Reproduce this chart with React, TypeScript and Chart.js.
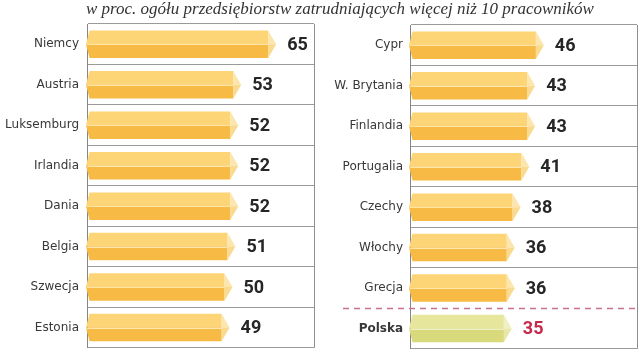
import React, { useEffect, useRef } from "react";
import { Chart, registerables } from "chart.js";

Chart.register(...registerables);

const titleText = "w proc. ogółu przedsiębiorstw zatrudniających więcej niż 10 pracowników";

const leftCategories = ["Niemcy", "Austria", "Luksemburg", "Irlandia", "Dania", "Belgia", "Szwecja", "Estonia"];
const leftValues = [65, 53, 52, 52, 52, 51, 50, 49];

const rightCategories = ["Cypr", "W. Brytania", "Finlandia", "Portugalia", "Czechy", "Włochy", "Grecja", "Polska"];
const rightValues = [46, 43, 43, 41, 38, 36, 36, 35];

const highlightCategory = "Polska";
const axisMax = 78;

const normalColors = { top: "#FDD476", bottom: "#F6BA45", tipTop: "#FCE6AE", tipBottom: "#F9DA8E", line: "#FDE6A8" };
const highlightColors = { top: "#E6E79D", bottom: "#D8DA7B", tipTop: "#F0F0C6", tipBottom: "#E6E7A8", line: "#EFEFC2" };

function drawPrism(ctx: CanvasRenderingContext2D, x0: number, x1: number, top: number, bottom: number, c: any) {
  const mid = (top + bottom) / 2;
  const t = Math.min(8, (x1 - x0) / 3);
  const b = 2.5;
  ctx.save();
  ctx.fillStyle = c.top;
  ctx.beginPath();
  ctx.moveTo(x0 + b, top);
  ctx.lineTo(x1 - t, top);
  ctx.lineTo(x1 - t, mid);
  ctx.lineTo(x0 - 1, mid);
  ctx.closePath();
  ctx.fill();
  ctx.fillStyle = c.bottom;
  ctx.beginPath();
  ctx.moveTo(x0 - 1, mid);
  ctx.lineTo(x1 - t, mid);
  ctx.lineTo(x1 - t, bottom);
  ctx.lineTo(x0 + b, bottom);
  ctx.closePath();
  ctx.fill();
  ctx.fillStyle = c.tipTop;
  ctx.beginPath();
  ctx.moveTo(x1 - t, top);
  ctx.lineTo(x1, mid);
  ctx.lineTo(x1 - t, mid);
  ctx.closePath();
  ctx.fill();
  ctx.fillStyle = c.tipBottom;
  ctx.beginPath();
  ctx.moveTo(x1 - t, mid);
  ctx.lineTo(x1, mid);
  ctx.lineTo(x1 - t, bottom);
  ctx.closePath();
  ctx.fill();
  ctx.strokeStyle = c.line;
  ctx.lineWidth = 1;
  ctx.beginPath();
  ctx.moveTo(x0, Math.round(mid) + 0.5);
  ctx.lineTo(x1 - t, Math.round(mid) + 0.5);
  ctx.stroke();
  ctx.restore();
}

const prismPlugin = {
  id: "prism",
  afterDatasetsDraw(chart: any) {
    const ctx = chart.ctx as CanvasRenderingContext2D;
    const meta = chart.getDatasetMeta(0);
    const labels = chart.data.labels as string[];
    const values = chart.data.datasets[0].data as number[];
    meta.data.forEach((el: any, i: number) => {
      const p = el.getProps(["x", "y", "base", "height"], true);
      const top = p.y - p.height / 2;
      const bottom = p.y + p.height / 2;
      const hl = labels[i] === highlightCategory;
      drawPrism(ctx, p.base, p.x, top, bottom, hl ? highlightColors : normalColors);
      ctx.save();
      ctx.font = "bold 18px Roboto";
      ctx.fillStyle = hl ? "#C8284A" : "#262626";
      ctx.textBaseline = "middle";
      ctx.textAlign = "left";
      ctx.fillText(String(values[i]), p.x + 11, p.y + 1);
      ctx.restore();
    });
  },
};

const framePlugin = {
  id: "frame",
  afterDraw(chart: any, _args: any, opts: any) {
    const ctx = chart.ctx as CanvasRenderingContext2D;
    const { top, bottom, right } = chart.chartArea;
    ctx.save();
    ctx.strokeStyle = "#8d8d8d";
    ctx.lineWidth = 1;
    ctx.beginPath();
    ctx.moveTo(Math.round(right) + 0.5, top);
    ctx.lineTo(Math.round(right) + 0.5, bottom);
    ctx.stroke();
    if (opts && opts.dashed) {
      const yScale = chart.scales.y;
      const idx = (chart.data.labels as string[]).indexOf(highlightCategory);
      const y = Math.round(yScale.getPixelForValue(idx - 0.5)) + 0.5;
      ctx.strokeStyle = "#C9718B";
      ctx.lineWidth = 1.3;
      ctx.setLineDash([6, 5]);
      ctx.beginPath();
      ctx.moveTo(opts.dashStart, y);
      ctx.lineTo(right, y);
      ctx.stroke();
    }
    ctx.restore();
  },
};

function makeConfig(labels: string[], values: number[], axisWidth: number, pad: any, tickPad: number, dashed: boolean) {
  const hlIndex = labels.indexOf(highlightCategory);
  return {
    type: "bar" as const,
    data: {
      labels,
      datasets: [
        {
          data: values,
          backgroundColor: "rgba(0,0,0,0)",
          borderWidth: 0,
          categoryPercentage: 0.68,
          barPercentage: 1,
        },
      ],
    },
    options: {
      indexAxis: "y" as const,
      responsive: false,
      animation: false as const,
      devicePixelRatio: 1,
      layout: { padding: pad },
      plugins: {
        legend: { display: false },
        tooltip: { enabled: false },
        title: { display: false },
        frame: { dashed, dashStart: 23 },
      },
      scales: {
        x: { display: false, min: 0, max: axisMax },
        y: {
          afterFit: (s: any) => {
            s.width = axisWidth;
          },
          grid: {
            offset: true,
            drawTicks: false,
            lineWidth: 1,
            color: (c: any) => (dashed && c.index === hlIndex ? "rgba(0,0,0,0)" : "#9a9a9a"),
          },
          border: { display: true, color: "#858585", width: 1 },
          ticks: {
            padding: tickPad,
            color: "#383838",
            font: (c: any) => ({
              family: "'DejaVu Sans', sans-serif",
              size: 12,
              weight: c.tick && c.tick.label === highlightCategory ? "bold" : "normal",
            }),
          },
        },
      },
    },
    plugins: [prismPlugin, framePlugin],
  };
}

function Panel({ labels, values, axisWidth, pad, tickPad, dashed, left }: any) {
  const ref = useRef<HTMLCanvasElement>(null);
  useEffect(() => {
    if (!ref.current) return;
    const chart = new Chart(ref.current, makeConfig(labels, values, axisWidth, pad, tickPad, dashed) as any);
    return () => chart.destroy();
  }, []);
  return (
    <canvas
      ref={ref}
      width={320}
      height={363}
      style={{ position: "absolute", left, top: 0, width: 320, height: 363 }}
    />
  );
}

export default function App() {
  return (
    <div style={{ position: "fixed", left: 0, top: 0, width: 640, height: 363, background: "#ffffff", overflow: "hidden" }}>
      <Panel
        labels={leftCategories}
        values={leftValues}
        axisWidth={87}
        pad={{ left: 0, right: 6, top: 24, bottom: 9 }}
        tickPad={8}
        dashed={false}
        left={0}
      />
      <Panel
        labels={rightCategories}
        values={rightValues}
        axisWidth={90}
        pad={{ left: 0, right: 3, top: 25, bottom: 8 }}
        tickPad={7}
        dashed={true}
        left={320}
      />
      <div
        style={{
          position: "absolute",
          left: 86,
          top: 0,
          fontFamily: "'Liberation Serif', serif",
          fontStyle: "italic",
          fontSize: 17,
          lineHeight: "17px",
          color: "#333",
          whiteSpace: "nowrap",
        }}
      >
        {titleText}
      </div>
    </div>
  );
}
